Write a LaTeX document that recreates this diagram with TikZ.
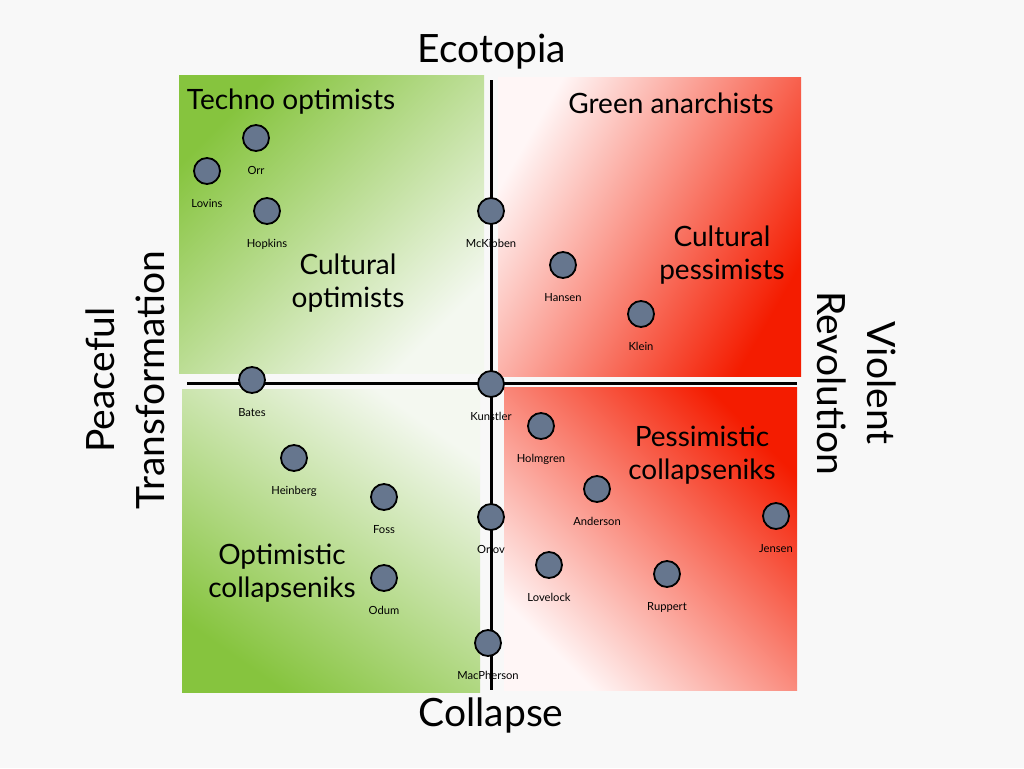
\documentclass[tikz,border=0pt]{standalone}
\usepackage{fontspec}
\setmainfont{Lato}
\definecolor{bgc}{HTML}{F8F8F8}
\definecolor{gdark}{HTML}{86C43E}
\definecolor{glight}{HTML}{F4F8F0}
\definecolor{rdark}{HTML}{F41C00}
\definecolor{rlight}{HTML}{FFF6F6}
\definecolor{dotc}{HTML}{66768E}
\tikzset{
  dotnode/.style={circle, minimum size=26pt, inner sep=0pt, fill=dotc, draw=black, line width=1.8pt},
  lbl/.style={font=\fontsize{11.2}{13}\selectfont, inner sep=0pt, text height=8pt, text depth=2.5pt, label distance=14pt},
  quad/.style={font=\fontsize{28}{33}\selectfont, align=center, inner sep=0pt},
  axlbl/.style={font=\fontsize{39}{50}\selectfont, align=center, inner sep=0pt},
  axisline/.style={line width=3pt, black},
}
\newcommand\person[4]{\node[dotnode, label={[lbl]below:#4}] (#1) at (#2,#3) {};}
\begin{document}
\begin{tikzpicture}[x=1pt,y=-1pt]
\fill[bgc] (0,0) rectangle (1024,768);
\useasboundingbox (0,0) rectangle (1024,768);
% quadrants
\shade[top color=gdark, bottom color=glight, shading angle=45] (179,75) rectangle (484,373);
\shade[top color=rlight, bottom color=rdark, shading angle=60] (498,77) rectangle (801,376);
\shade[top color=glight, bottom color=gdark, shading angle=-35] (182,389) rectangle (480,692);
\shade[top color=rdark, bottom color=rlight, shading angle=-45] (504,387) rectangle (797,690);
% axes
\coordinate (L) at (187,383);
\coordinate (R) at (797,383);
\coordinate (T) at (491,80);
\coordinate (B) at (491,690);
\draw[axisline] (L) -- (R);
\draw[axisline] (T) -- (B);
% axis labels
\node[axlbl] (eco) at (492,52) {Ecotopia};
\node[axlbl] (col) at (491,715) {Collapse};
\node[axlbl, rotate=90] (peace) at (125,380) {Peaceful\\Transformation};
\node[axlbl, rotate=-90] (viol) at (857,383) {Violent\\Revolution};
% quadrant labels
\node[quad] (techno) at (291,102) {Techno optimists};
\node[quad] (green) at (671,103) {Green anarchists};
\node[quad] (cultopt) at (348,283) {Cultural\\optimists};
\node[quad] (cultpes) at (722,255) {Cultural\\pessimists};
\node[quad] (pescol) at (702,455) {Pessimistic\\collapseniks};
\node[quad] (optcol) at (282,573) {Optimistic\\collapseniks};
% people
\person{orr}{256}{138}{Orr}
\person{lovins}{207}{171}{Lovins}
\person{hopkins}{267}{211}{Hopkins}
\person{mckibben}{491}{211}{McKibben}
\person{hansen}{563}{265}{Hansen}
\person{klein}{641}{314}{Klein}
\person{bates}{252}{380}{Bates}
\person{kunstler}{491}{384}{Kunstler}
\person{holmgren}{541}{426}{Holmgren}
\person{heinberg}{294}{458}{Heinberg}
\person{anderson}{597}{489}{Anderson}
\person{foss}{384}{497}{Foss}
\person{orlov}{491}{517}{Orlov}
\person{jensen}{776}{516}{Jensen}
\person{lovelock}{549}{565}{Lovelock}
\person{ruppert}{667}{574}{Ruppert}
\person{odum}{384}{578}{Odum}
\person{macpherson}{488}{643}{MacPherson}
\end{tikzpicture}
\end{document}
